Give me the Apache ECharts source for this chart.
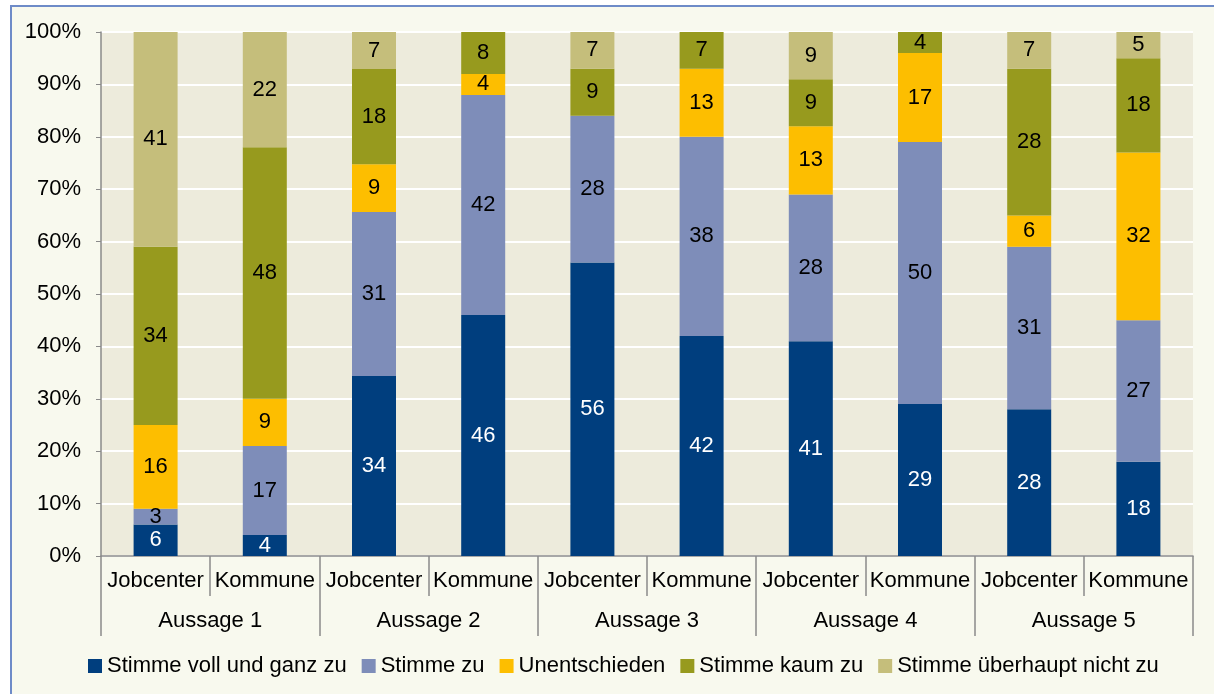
<!DOCTYPE html>
<html><head><meta charset="utf-8">
<script src="https://cdn.jsdelivr.net/npm/echarts@6/dist/echarts.min.js"></script>
<style>
html,body{margin:0;padding:0;background:#fff;width:1214px;height:694px;overflow:hidden;}
#frame{position:absolute;left:10px;top:5px;width:1300px;height:800px;background:#F8F9EE;border-left:2px solid #6E8BC8;border-top:2px solid #6E8BC8;}
#chart{position:absolute;left:0;top:0;width:1214px;height:694px;}
</style></head>
<body>
<div id="frame"></div>
<div id="chart"></div>
<script>
const categories = ['Jobcenter','Kommune','Jobcenter','Kommune','Jobcenter','Kommune','Jobcenter','Kommune','Jobcenter','Kommune'];
const groups = ['Aussage 1','Aussage 2','Aussage 3','Aussage 4','Aussage 5'];
const seriesNames = ['Stimme voll und ganz zu','Stimme zu','Unentschieden','Stimme kaum zu','Stimme überhaupt nicht zu'];
const vollUndGanz = [6, 4, 34, 46, 56, 42, 41, 29, 28, 18];
const stimmeZu    = [3, 17, 31, 42, 28, 38, 28, 50, 31, 27];
const unentschieden = [16, 9, 9, 4, null, 13, 13, 17, 6, 32];
const kaumZu      = [34, 48, 18, 8, 9, 7, 9, 4, 28, 18];
const nichtZu     = [41, 22, 7, null, 7, null, 9, null, 7, 5];
const yTicks = ['0%','10%','20%','30%','40%','50%','60%','70%','80%','90%','100%'];
const colors = ['#003E7E','#7E8DB9','#FDBE00','#979A1E','#C5BE7B'];

const raw = [vollUndGanz, stimmeZu, unentschieden, kaumZu, nichtZu];
const totals = categories.map((c,i)=>raw.reduce((s,a)=>s+(a[i]||0),0));

const font = 'Liberation Sans, Arial, sans-serif';
const chart = echarts.init(document.getElementById('chart'), null, {renderer:'canvas'});
chart.setOption({
  backgroundColor:'transparent',
  animation:false,
  grid:{left:101,right:21,top:32,bottom:138,show:true,backgroundColor:'#EDEBDC',borderWidth:0},
  legend:{
    bottom:12,left:83,icon:'rect',itemWidth:14,itemHeight:14,itemGap:15,
    textStyle:{fontFamily:font,fontSize:22,color:'#000'},
    data:seriesNames
  },
  xAxis:[
    {type:'category',data:categories,position:'bottom',
     axisLine:{show:true,lineStyle:{color:'#8A8A8A',width:1.5}},
     axisTick:{show:true,length:40,interval:0,lineStyle:{color:'#8A8A8A',width:1.5}},
     axisLabel:{interval:0,margin:14,fontFamily:font,fontSize:22,color:'#000'}},
    {type:'category',data:groups,position:'bottom',
     axisLine:{show:false},
     axisTick:{show:true,length:80,interval:0,lineStyle:{color:'#8A8A8A',width:1.5}},
     axisLabel:{interval:0,margin:54,fontFamily:font,fontSize:22,color:'#000'}}
  ],
  yAxis:{type:'value',min:0,max:100,interval:10,
    axisLine:{show:true,lineStyle:{color:'#8A8A8A',width:1.5}},
    axisTick:{show:true,length:5,lineStyle:{color:'#8A8A8A'}},
    splitLine:{show:true,lineStyle:{color:'#FFFFFF',width:2}},
    axisLabel:{margin:20,fontFamily:font,fontSize:22,color:'#000',
      formatter:(v)=>yTicks[Math.round(v/10)]}},
  series: raw.map((arr,k)=>({
    name:seriesNames[k],type:'bar',stack:'all',barWidth:44,
    itemStyle:{color:colors[k]},
    label:{show:true,position:'inside',fontFamily:font,fontSize:22,
      color:k===0?'#FFFFFF':'#000000',
      formatter:(p)=>arr[p.dataIndex]==null?'':String(arr[p.dataIndex])},
    data:arr.map((v,i)=>v==null?null:v/totals[i]*100)
  }))
});
</script>
</body></html>
